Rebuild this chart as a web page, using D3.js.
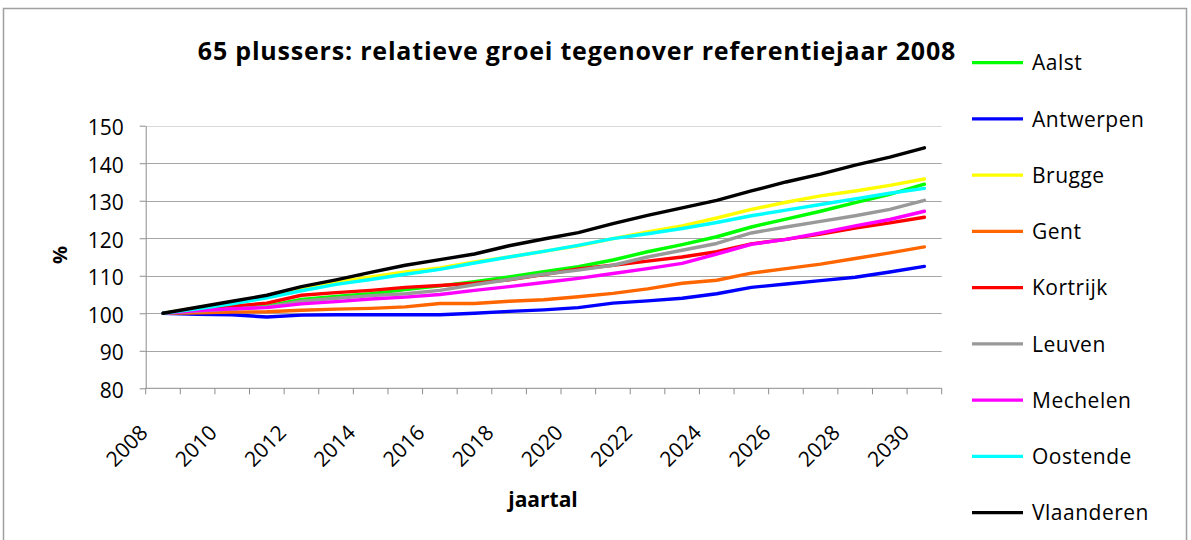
<!DOCTYPE html>
<html>
<head>
<meta charset="utf-8">
<script src="https://cdn.jsdelivr.net/npm/d3@7"></script>
<style>
  body { margin: 0; background: #fff; }
  svg { display: block; font-family: "Open Sans", "Noto Sans", sans-serif; }
</style>
</head>
<body>
<svg id="chart" width="1191" height="540"></svg>
<script>
// years on the category axis
const years = d3.range(2008, 2031);
const yTicks = [80, 90, 100, 110, 120, 130, 140, 150];

// series, index 100 = 2008
const aalst =      [100, 100.6, 101.2, 101.9, 103.7, 104.5, 105.2, 106.3, 107.3, 108.4, 109.7, 111.1, 112.4, 114.2, 116.4, 118.3, 120.4, 123.0, 125.1, 127.2, 129.5, 131.7, 134.4];
const antwerpen =  [100, 99.7, 99.6, 99.0, 99.5, 99.6, 99.6, 99.6, 99.6, 100.0, 100.5, 100.9, 101.5, 102.7, 103.3, 104.0, 105.2, 106.9, 107.8, 108.7, 109.6, 111.0, 112.5];
const brugge =     [100, 101.5, 103.0, 104.6, 106.6, 108.3, 109.7, 111.0, 112.1, 113.7, 115.0, 116.5, 118.0, 119.9, 121.7, 123.3, 125.4, 127.7, 129.6, 131.3, 132.6, 134.1, 135.8];
const gent =       [100, 100.1, 100.3, 100.4, 100.8, 101.1, 101.3, 101.7, 102.6, 102.6, 103.2, 103.6, 104.4, 105.3, 106.5, 108.0, 108.8, 110.7, 111.9, 113.1, 114.6, 116.1, 117.7];
const kortrijk =   [100, 100.9, 101.9, 102.7, 104.8, 105.5, 106.1, 106.9, 107.4, 108.0, 108.9, 110.3, 111.8, 112.8, 113.9, 115.0, 116.4, 118.5, 119.7, 121.1, 122.7, 124.1, 125.6];
const leuven =     [100, 100.6, 101.1, 101.7, 103.2, 104.0, 104.7, 105.2, 106.1, 107.6, 109.0, 110.4, 111.5, 112.8, 115.0, 116.8, 118.6, 121.4, 123.0, 124.5, 126.0, 127.7, 130.1];
const mechelen =   [100, 100.7, 101.2, 101.5, 102.5, 103.1, 103.8, 104.3, 105.0, 106.1, 107.1, 108.2, 109.3, 110.6, 111.9, 113.3, 115.8, 118.4, 119.7, 121.4, 123.3, 125.0, 127.2];
const oostende =   [100, 101.2, 102.5, 104.1, 106.0, 107.7, 109.0, 110.4, 111.7, 113.4, 115.0, 116.5, 118.1, 119.9, 121.2, 122.6, 124.2, 126.0, 127.5, 129.0, 130.5, 132.0, 133.3];
const vlaanderen = [100, 101.6, 103.2, 104.8, 107.1, 108.9, 110.9, 112.8, 114.3, 115.8, 118.0, 119.8, 121.5, 123.9, 126.1, 128.1, 130.1, 132.6, 135.0, 137.1, 139.5, 141.6, 144.1];

const names = ["Aalst", "Antwerpen", "Brugge", "Gent", "Kortrijk", "Leuven", "Mechelen", "Oostende", "Vlaanderen"];
const colors = ["#00ff00", "#0000ff", "#ffff00", "#ff6600", "#ff0000", "#999999", "#ff00ff", "#00ffff", "#000000"];
const series = [aalst, antwerpen, brugge, gent, kortrijk, leuven, mechelen, oostende, vlaanderen];

const svg = d3.select("#chart");

// outer chart border
svg.append("rect")
  .attr("x", 3.5).attr("y", 8.5)
  .attr("width", 1183).attr("height", 540)
  .attr("fill", "none").attr("stroke", "#a0a0a0").attr("stroke-width", 1.5);

const plotLeft = 145.7, plotRight = 941.7, plotTop = 125.7, plotBottom = 388.3;

const x = d3.scaleBand().domain(years).range([plotLeft, plotRight]).padding(0);
const y = d3.scaleLinear().domain([80, 150]).range([plotBottom, plotTop]);

// gridlines
svg.append("g")
  .selectAll("line")
  .data(yTicks.filter(d => d > 80))
  .join("line")
  .attr("x1", plotLeft).attr("x2", plotRight)
  .attr("y1", d => Math.round(y(d)) + 0.5).attr("y2", d => Math.round(y(d)) + 0.5)
  .attr("stroke", d => d === 150 ? "#d9d9d9" : "#a6a6a6")
  .attr("stroke-width", 1.2);

// y axis
const yAxis = svg.append("g")
  .attr("transform", `translate(${plotLeft},0)`)
  .call(d3.axisLeft(y).tickValues(yTicks).tickSize(6).tickSizeOuter(0).tickPadding(16));
yAxis.select(".domain").attr("stroke", "#8c8c8c");
yAxis.selectAll(".tick line").attr("stroke", "#8c8c8c");
yAxis.selectAll(".tick text")
  .attr("font-size", 21).attr("fill", "#000").attr("dy", "0.42em")
  .attr("font-family", "'Open Sans', sans-serif");

// x axis line and tick marks on band edges
const xg = svg.append("g");
xg.append("line")
  .attr("x1", plotLeft).attr("x2", plotRight)
  .attr("y1", plotBottom).attr("y2", plotBottom)
  .attr("stroke", "#8c8c8c");
const edges = years.map(d => x(d)).concat([x(years[years.length - 1]) + x.bandwidth()]);
xg.selectAll("line.tk")
  .data(edges)
  .join("line")
  .attr("class", "tk")
  .attr("x1", d => d).attr("x2", d => d)
  .attr("y1", plotBottom).attr("y2", plotBottom + 6)
  .attr("stroke", "#8c8c8c");

const labelYears = years.filter(d => d % 2 === 0);
xg.selectAll("text")
  .data(labelYears)
  .join("text")
  .attr("transform", d => `translate(${x(d) + x.bandwidth() / 2 - 14},434) rotate(-45)`)
  .attr("text-anchor", "end")
  .attr("font-size", 21)
  .text(d => d);

// lines
const line = d3.line()
  .x((d, i) => x(years[i]) + x.bandwidth() / 2)
  .y(d => y(d));

svg.append("g")
  .selectAll("path")
  .data(series)
  .join("path")
  .attr("d", d => line(d))
  .attr("fill", "none")
  .attr("stroke", (d, i) => colors[i])
  .attr("stroke-width", 3.4)
  .attr("stroke-linejoin", "round")
  .attr("stroke-linecap", "round");

// title
svg.append("text")
  .attr("x", 577).attr("y", 60)
  .attr("text-anchor", "middle")
  .attr("font-size", 25).attr("font-weight", "bold")
  .attr("letter-spacing", 0.8)
  .text("65 plussers: relatieve groei tegenover referentiejaar 2008");

// axis titles
svg.append("text")
  .attr("transform", "translate(67,255) rotate(-90)")
  .attr("text-anchor", "middle")
  .attr("font-size", 20).attr("font-weight", "bold")
  .text("%");

svg.append("text")
  .attr("x", 543).attr("y", 507)
  .attr("text-anchor", "middle")
  .attr("font-size", 21).attr("font-weight", "bold")
  .text("jaartal");

// legend
const legend = svg.append("g")
  .selectAll("g")
  .data(names)
  .join("g")
  .attr("transform", (d, i) => `translate(972,${62.7 + i * 56.25})`);
legend.append("line")
  .attr("x1", 0).attr("x2", 51)
  .attr("stroke", (d, i) => colors[i])
  .attr("stroke-width", 3.2);
legend.append("text")
  .attr("x", 60).attr("dy", "0.36em")
  .attr("font-size", 21)
  .attr("letter-spacing", 0.5)
  .text(d => d);
</script>
</body>
</html>
